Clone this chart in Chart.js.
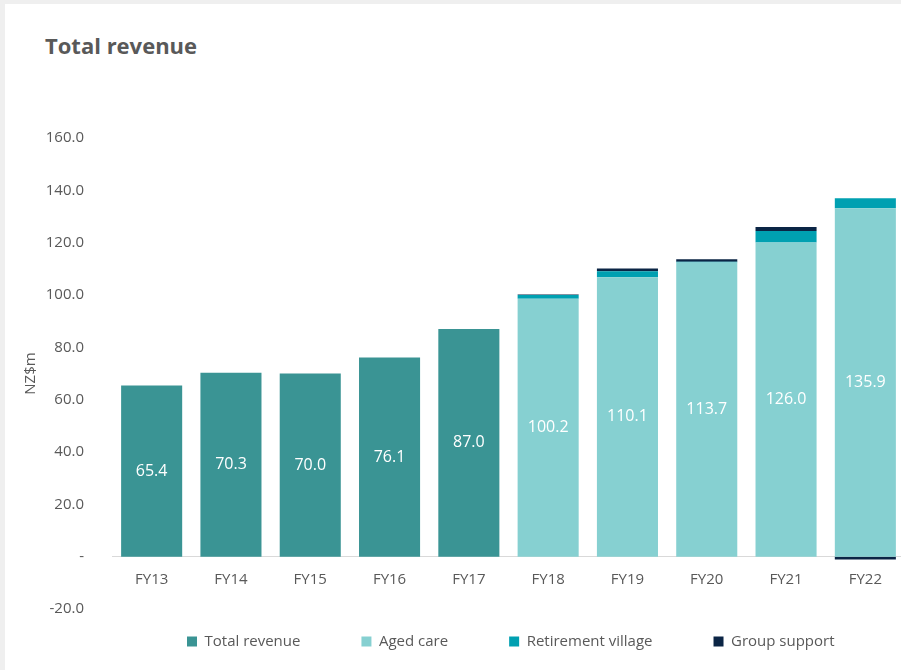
<!DOCTYPE html>
<html>
<head>
<meta charset="utf-8">
<script src="https://cdn.jsdelivr.net/npm/chart.js@4.4.1/dist/chart.umd.min.js"></script>
<style>
  body { margin: 0; background: #efefef; }
  .panel { position: absolute; left: 5px; top: 4px; width: 896px; height: 666px; background: #fff; overflow: hidden; }
  .title { position: absolute; left: 40px; top: 30px; font: bold 22px/1 "Open Sans", sans-serif; color: #595959; }
  .chart-box { position: absolute; left: 0; top: 96px; width: 900px; height: 570px; }
</style>
</head>
<body>
<div class="panel">
  <div class="title">Total revenue</div>
  <div class="chart-box"><canvas id="revenueChart"></canvas></div>
</div>
<script>
const years = ['FY13', 'FY14', 'FY15', 'FY16', 'FY17', 'FY18', 'FY19', 'FY20', 'FY21', 'FY22'];
const totalRevenue = [65.4, 70.3, 70.0, 76.1, 87.0, null, null, null, null, null];
const agedCare = [null, null, null, null, null, 98.6, 106.8, 112.4, 120.1, 133.2];
const retirementVillage = [null, null, null, null, null, 1.4, 2.3, 0.3, 4.4, 3.8];
const groupSupport = [null, null, null, null, null, 0.2, 1.0, 1.0, 1.5, -1.1];
const totals = [65.4, 70.3, 70.0, 76.1, 87.0, 100.2, 110.1, 113.7, 126.0, 135.9];
const yTicks = [-20, 0, 20, 40, 60, 80, 100, 120, 140, 160];

const textColor = '#595959';
const fontFamily = '"Open Sans", sans-serif';

// white value labels in the middle of the main bar
const barLabels = {
    id: 'barLabels',
    afterDatasetsDraw(chart) {
        const ctx = chart.ctx;
        ctx.save();
        ctx.fillStyle = '#ffffff';
        ctx.font = '16px ' + fontFamily;
        ctx.textAlign = 'center';
        ctx.textBaseline = 'middle';
        totals.forEach((t, i) => {
            const ds = totalRevenue[i] != null ? 0 : 1;
            const bar = chart.getDatasetMeta(ds).data[i];
            ctx.fillText(t.toFixed(1), bar.x, (bar.y + bar.base) / 2);
        });
        ctx.restore();
    }
};

// put the legend where the original has it
const legendPlacement = {
    id: 'legendPlacement',
    afterLayout(chart) {
        const legend = chart.legend;
        legend.left = 121;
        legend.right = 1000;
        legend.top = 473;
    }
};

new Chart(document.getElementById('revenueChart'), {
    type: 'bar',
    data: {
        labels: years,
        datasets: [
            { label: 'Total revenue', data: totalRevenue, backgroundColor: '#3a9494' },
            { label: 'Aged care', data: agedCare, backgroundColor: '#86d0d1' },
            { label: 'Retirement village', data: retirementVillage, backgroundColor: '#00a0b1' },
            { label: 'Group support', data: groupSupport, backgroundColor: '#0b2545' }
        ]
    },
    options: {
        responsive: true,
        maintainAspectRatio: false,
        animation: false,
        datasets: {
            bar: { categoryPercentage: 0.77, barPercentage: 1, borderWidth: 0 }
        },
        layout: { padding: { left: 17, top: 38, right: 0, bottom: 0 } },
        plugins: {
            tooltip: { enabled: false },
            legend: {
                position: 'bottom',
                align: 'start',
                maxHeight: 61,
                labels: {
                    boxWidth: 10,
                    boxHeight: 10,
                    padding: 61,
                    color: textColor,
                    font: { size: 15, family: fontFamily }
                }
            }
        },
        scales: {
            x: {
                stacked: true,
                position: { y: 0 },
                grid: { display: false, drawTicks: false },
                border: { display: true, color: '#d9d9d9', width: 1 },
                ticks: { padding: 14, color: textColor, font: { size: 15, family: fontFamily } }
            },
            y: {
                stacked: true,
                min: yTicks[0],
                max: yTicks[yTicks.length - 1],
                afterBuildTicks(scale) {
                    scale.ticks = yTicks.map(v => ({ value: v }));
                },
                afterFit(scale) {
                    scale.width = 90;
                },
                grid: { display: false },
                border: { display: false },
                ticks: {
                    padding: 20,
                    color: textColor,
                    font: { size: 15, family: fontFamily },
                    callback: v => v === 0 ? '-' : v.toFixed(1)
                },
                title: {
                    display: true,
                    text: 'NZ$m',
                    color: textColor,
                    font: { size: 15, family: fontFamily },
                    padding: { top: 0, bottom: 12 }
                }
            }
        }
    },
    plugins: [barLabels, legendPlacement]
});
</script>
</body>
</html>
